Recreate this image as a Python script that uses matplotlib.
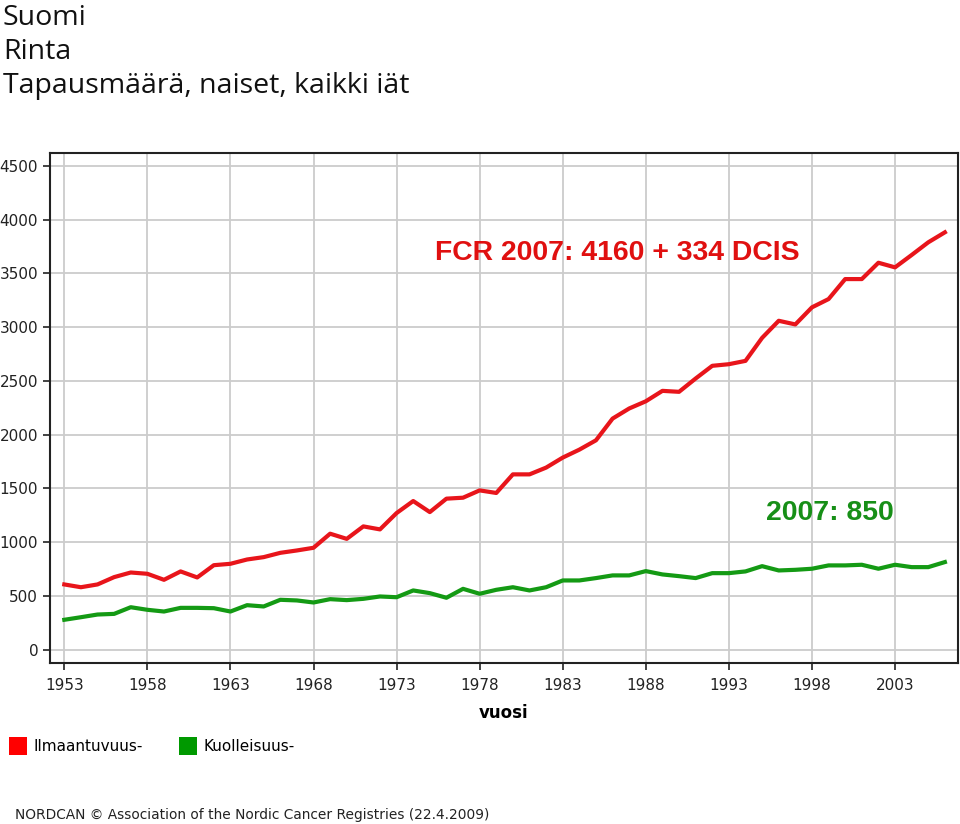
import matplotlib
matplotlib.use('Agg')
import matplotlib.pyplot as plt
import matplotlib.patches as mpatches
import numpy as np

# Breast cancer, Finland, women, all ages (NORDCAN)
years = np.arange(1953, 2007)
incidence = [606, 580, 606, 674, 717, 705, 649, 727, 671, 785,
             798, 838, 860, 900, 922, 947, 1078, 1030, 1146, 1118,
             1270, 1382, 1279, 1404, 1413, 1481, 1457, 1630, 1630, 1693,
             1786, 1860, 1947, 2149, 2243, 2310, 2407, 2398, 2522, 2640,
             2655, 2686, 2900, 3059, 3025, 3184, 3261, 3447, 3447, 3599,
             3556, 3671, 3789, 3882]
mortality = [277, 301, 326, 332, 394, 370, 354, 388, 388, 385,
             354, 413, 401, 463, 457, 438, 469, 460, 472, 494,
             487, 550, 525, 482, 565, 519, 556, 580, 550, 580,
             643, 643, 665, 690, 690, 730, 699, 683, 665, 711,
             711, 727, 776, 736, 742, 752, 783, 783, 789, 752,
             789, 767, 767, 814]

xticks = np.arange(1953, 2004, 5)
yticks = np.arange(0, 4501, 500)
title_lines = ['Suomi', 'Rinta', 'Tapausmäärä, naiset, kaikki iät']
legend_labels = ['Ilmaantuvuus-', 'Kuolleisuus-']

red_line = '#e8151b'
green_line = '#149a14'

fig = plt.figure(figsize=(9.6, 8.24), dpi=100)
ax = fig.add_axes([50 / 960, 1 - 663 / 824, (958 - 50) / 960, (663 - 153) / 824])

ax.plot(years, incidence, color=red_line, lw=3.0, solid_joinstyle='round')
ax.plot(years, mortality, color=green_line, lw=3.0, solid_joinstyle='round')

ax.set_xlim(1952.14, 2006.79)
ax.set_ylim(-125, 4620)
ax.set_xticks(xticks)
ax.set_yticks(yticks)
ax.grid(True, color='#cccccc', lw=1.3)
ax.set_axisbelow(True)
for s in ax.spines.values():
    s.set_color('#222222')
    s.set_linewidth(1.5)
ax.tick_params(axis='both', direction='out', length=5, width=1.2, color='#222222',
               labelsize=11, labelcolor='#222222')
ax.tick_params(axis='x', pad=6)
ax.set_xlabel('vuosi', fontsize=12, fontweight='bold', labelpad=8)

ax.text(1986.3, 3690, 'FCR 2007: 4160 + 334 DCIS', color='#e01010', fontsize=20.4,
        fontweight='bold', family='Liberation Sans', ha='center', va='center')
ax.text(1999.1, 1270, '2007: 850', color='#178f17', fontsize=20.4,
        fontweight='bold', family='Liberation Sans', ha='center', va='center')

# headings
for i, line in enumerate(title_lines):
    fig.text(3 / 960, 1 - (25 + 34 * i) / 824, line, fontsize=20.5, family='Open Sans',
             va='baseline', ha='left', color='#111111')

# legend
handles = [mpatches.Patch(facecolor='#ff0000', label=legend_labels[0]),
           mpatches.Patch(facecolor='#009900', label=legend_labels[1])]
fig.legend(handles=handles, loc='upper left', bbox_to_anchor=(9 / 960, 1 - 737 / 824),
           ncol=2, frameon=False, fontsize=11, handlelength=1.15, handleheight=1.4,
           handletextpad=0.45, columnspacing=2.4, borderpad=0, borderaxespad=0)

fig.text(15 / 960, 1 - 815 / 824, 'NORDCAN © Association of the Nordic Cancer Registries (22.4.2009)',
         fontsize=9.9, va='center', ha='left', color='#222222')

plt.savefig('out.png', dpi=100)
